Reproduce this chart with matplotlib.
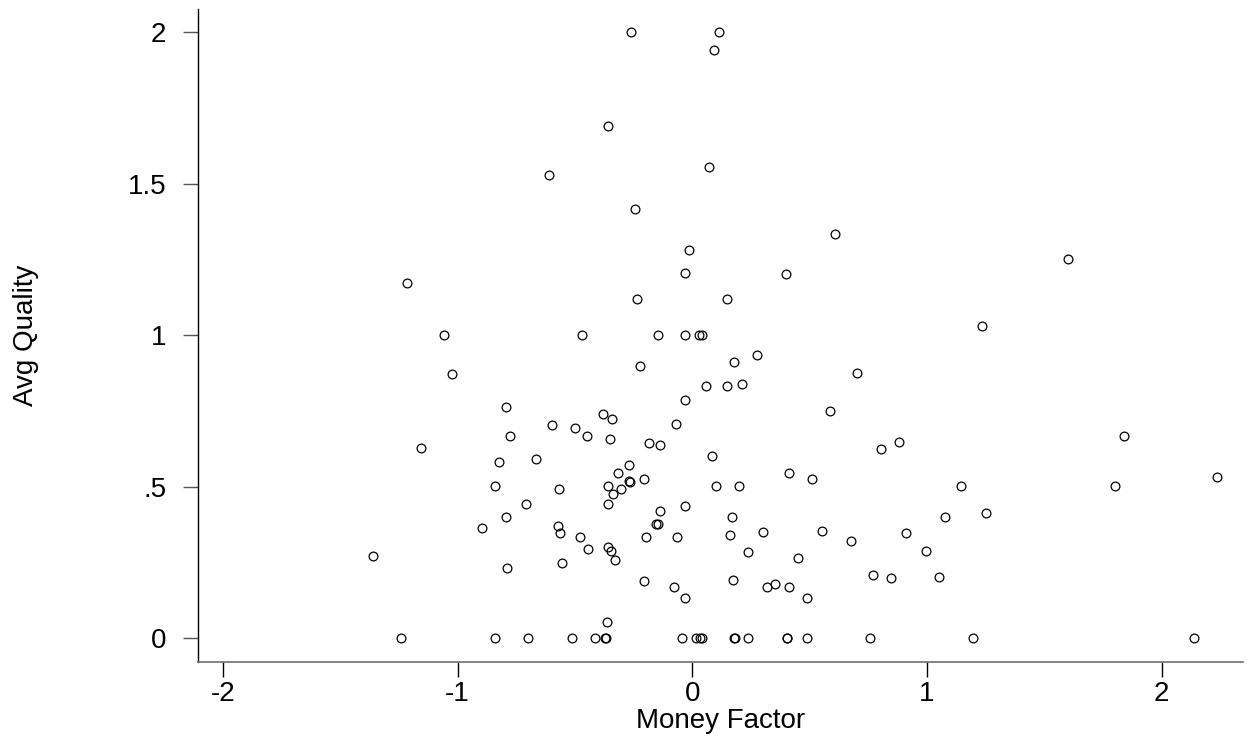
import matplotlib
matplotlib.use("Agg")
from matplotlib import pyplot as plt

plt.rcParams['font.family'] = ['Liberation Sans', 'DejaVu Sans']

# money factor (x) / avg quality (y)
money = [
    -0.261, 0.114, 0.094, -0.358, 0.072, -0.609, -0.243, 0.607, -0.013, -0.030,
    0.401, -0.237, 0.147, 1.600, 1.233, -1.214,
    -1.059, -1.023, -1.157, -0.825, -0.842, -0.895, -1.362, -1.242, -0.839,
    -0.470, -0.147, -0.030, 0.030, 0.040,
    0.277, 0.176, -0.224, 0.703, 0.058, 0.149, 0.210, -0.030, -0.795, 0.588,
    -0.379, -0.342, -0.068, -0.598, -0.500, -0.775, -0.450, -0.349, -0.186, -0.136,
    0.802, -0.665, 0.085, -0.271, -0.317, -0.268, -0.266, -0.204, 0.413, 0.509,
    -0.568, -0.358, -0.303, -0.338, 0.102, 0.198, -0.709, -0.361, -0.139, -0.030,
    0.170, -0.795, -0.574, -0.564, -0.156, -0.145, -0.479, -0.196, -0.065, 0.159,
    0.303, 0.554, 0.678, 0.769, -0.443, -0.359, -0.346, -0.329, 0.239, 0.452,
    -0.788, -0.557, -0.204, -0.078, -0.030, 0.175, 0.317, 0.354, 0.411, 0.490,
    -0.363,
    -0.700, -0.511, -0.415, -0.371, -0.367, -0.045, 0.016, 0.031, 0.040,
    0.179, 0.182, 0.239, 0.402, 0.405, 0.490, 0.757,
    1.838, 0.882, 1.146, 1.802, 2.237, 1.078, 1.250, 0.912, 0.997, 0.845,
    1.052, 1.195, 2.139,
]
quality = [
    2.0, 2.0, 1.941, 1.692, 1.555, 1.530, 1.418, 1.333, 1.281, 1.206,
    1.201, 1.119, 1.119, 1.251, 1.032, 1.174,
    1.0, 0.873, 0.629, 0.581, 0.502, 0.364, 0.273, 0.0, 0.0,
    1.0, 1.0, 1.0, 1.0, 1.0,
    0.934, 0.911, 0.898, 0.877, 0.833, 0.833, 0.840, 0.788, 0.762, 0.750,
    0.739, 0.724, 0.706, 0.703, 0.693, 0.669, 0.669, 0.659, 0.645, 0.638,
    0.625, 0.591, 0.601, 0.572, 0.545, 0.519, 0.515, 0.525, 0.545, 0.525,
    0.492, 0.502, 0.492, 0.475, 0.502, 0.502, 0.444, 0.444, 0.419, 0.436,
    0.401, 0.401, 0.370, 0.347, 0.376, 0.376, 0.334, 0.334, 0.334, 0.342,
    0.351, 0.353, 0.321, 0.209, 0.296, 0.300, 0.287, 0.259, 0.285, 0.264,
    0.232, 0.248, 0.189, 0.168, 0.132, 0.191, 0.168, 0.180, 0.168, 0.133,
    0.055,
    0.0, 0.0, 0.0, 0.0, 0.0, 0.0, 0.0, 0.0, 0.0,
    0.0, 0.0, 0.0, 0.0, 0.0, 0.0, 0.0,
    0.669, 0.649, 0.502, 0.502, 0.532, 0.400, 0.415, 0.347, 0.287, 0.200,
    0.202, 0.0, 0.0,
]

xticks = [-2, -1, 0, 1, 2]
yticks = [0, 0.5, 1, 1.5, 2]
ylabels = ['0', '.5', '1', '1.5', '2']

fig = plt.figure(figsize=(12.49, 7.38), dpi=100)
ax = fig.add_axes([0.1585, 0.1034, 0.8367, 0.8844])

ax.plot(money, quality, 'o', ls='none', mfc='none', mec='black', ms=6.3, mew=0.9)

ax.set_xlim(-2.106, 2.346)
ax.set_ylim(-0.077, 2.077)
ax.set_xticks(xticks)
ax.set_xticklabels([str(t) for t in xticks])
ax.set_yticks(yticks)
ax.set_yticklabels(ylabels)

ax.spines['top'].set_visible(False)
ax.spines['right'].set_visible(False)
ax.spines['left'].set_color('black')
ax.spines['bottom'].set_color('#707070')
ax.spines['left'].set_linewidth(1.0)
ax.spines['bottom'].set_linewidth(1.2)

ax.tick_params(axis='x', direction='out', length=10.8, width=1.0, color='black',
               labelsize=20, pad=3)
ax.tick_params(axis='y', direction='out', length=10.8, width=1.0, color='#555555',
               labelsize=20, pad=12)

ax.set_xlabel('Money Factor', fontsize=20, labelpad=1)
ax.set_ylabel('Avg Quality', fontsize=20, labelpad=64)

fig.savefig('out.png', dpi=100)
